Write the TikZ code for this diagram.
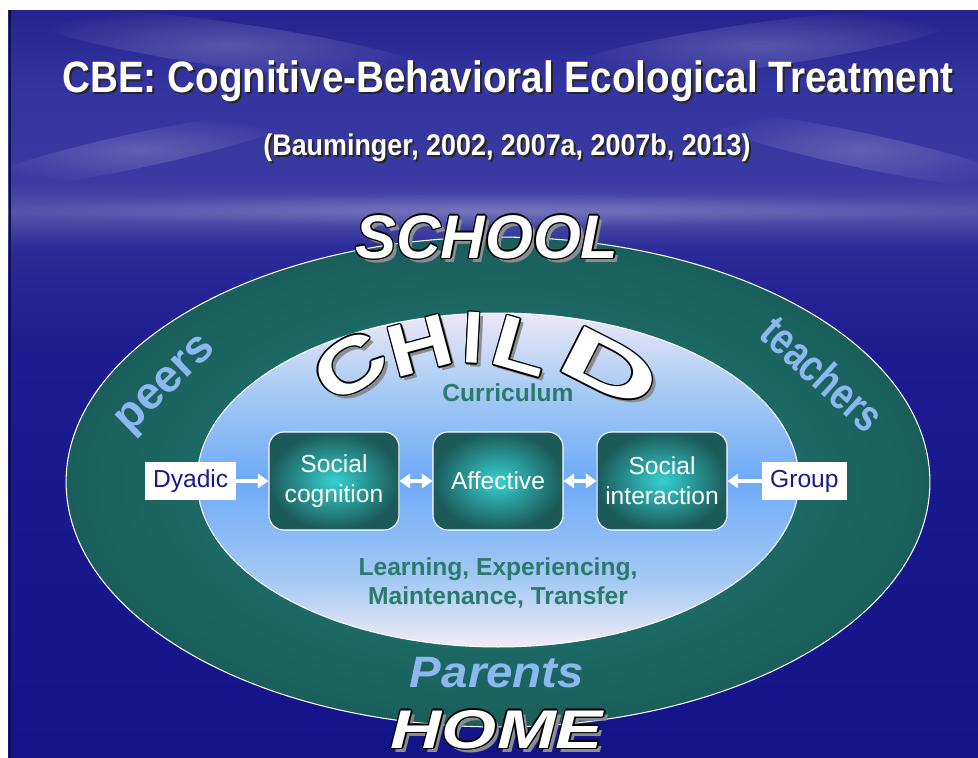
\documentclass[tikz,border=0pt]{standalone}
\usepackage{fontspec}
\setmainfont{Liberation Sans}
\usetikzlibrary{arrows.meta,shapes,positioning,calc,fadings}

\definecolor{seadeep}{HTML}{14148A}
\definecolor{seamid}{HTML}{1C1C90}
\definecolor{seatop}{HTML}{2A2A98}
\definecolor{haze}{HTML}{5454AC}
\definecolor{skylow}{HTML}{3A3AA2}
\definecolor{skymid}{HTML}{3434A0}
\definecolor{skytop}{HTML}{24248E}
\definecolor{edgeline}{HTML}{12123E}
\definecolor{ringcore}{HTML}{21807A}
\definecolor{ringedge}{HTML}{1A5E5B}
\definecolor{lavtop}{HTML}{EDE7F7}
\definecolor{paleblue}{HTML}{A4CAF4}
\definecolor{midblue}{HTML}{6EAAF8}
\definecolor{lavbottom}{HTML}{F3EBF7}
\definecolor{unitcore}{HTML}{36D0D0}
\definecolor{unitedge}{HTML}{1C5A5A}
\definecolor{sidetext}{HTML}{1A1A8C}
\definecolor{currtext}{HTML}{2C7A6E}
\definecolor{ringtext}{HTML}{8CB8F2}
\definecolor{artshadow}{HTML}{8A8E92}

\pgfdeclareverticalshading{oceansky}{100bp}{color(0bp)=(seadeep); color(25bp)=(seadeep);
  color(52bp)=(seamid); color(59bp)=(seatop); color(61.5bp)=(haze); color(63.5bp)=(skylow);
  color(70bp)=(skymid); color(75bp)=(skytop); color(100bp)=(skytop)}
\pgfdeclareverticalshading{childsky}{100bp}{color(0bp)=(lavbottom); color(25bp)=(lavbottom);
  color(35bp)=(paleblue); color(50bp)=(midblue); color(63bp)=(paleblue);
  color(75bp)=(lavtop); color(100bp)=(lavtop)}
\tikzfading[name=puff, inner color=transparent!0, outer color=transparent!100]

\tikzstyle{unit}=[rounded corners=0.3cm, draw=white, line width=0.6pt, shading=radial,
                  inner color=unitcore, outer color=unitedge, minimum width=2.6cm,
                  minimum height=1.96cm, align=center, text=white,
                  font={\fontsize{14}{17}\selectfont}]
\tikzstyle{side}=[fill=white, text=sidetext, minimum height=0.76cm, inner sep=0pt,
                  font={\fontsize{14}{17}\selectfont}]
\tikzstyle{link}=[draw=white, line width=2.6pt, -{Triangle[length=6pt,width=8pt]}]
\tikzstyle{bilink}=[link, {Triangle[length=6pt,width=8pt]}-{Triangle[length=6pt,width=8pt]}]
\tikzstyle{roof}=[inner sep=0pt, anchor=base, font={\fontsize{35}{40}\selectfont\bfseries\itshape}]
\tikzstyle{letter}=[inner sep=0pt, font={\fontsize{42}{44}\selectfont\bfseries}]
\tikzstyle{ring}=[inner sep=0pt, anchor=base, text=ringtext, font={\fontsize{26}{28}\selectfont\bfseries}]
\tikzstyle{caption}=[inner sep=0pt, anchor=base, text=currtext, align=center,
                     font={\fontsize{14}{17}\selectfont\bfseries}]

% outlined white word with a grey drop shadow
\newcommand{\artword}[4]{%
  \node[#3, text=artshadow] at ($(#2)+(4,4)$) {#4};
  \foreach \ox/\oy in {-1/-1,-1/1,1/-1,1/1,-1.4/0,1.4/0,0/-1.4,0/1.4}
    \node[#3, text=black] at ($(#2)+(\ox,\oy)$) {#4};
  \node[#3, text=white] (#1) at (#2) {#4};}

\begin{document}
\begin{tikzpicture}[x=0.02cm,y=-0.02cm]
\useasboundingbox (0,0) rectangle (978,758);
\fill[white] (0,0) rectangle (978,758);
\path[shading=oceansky] (8,10) rectangle (978,758);
\foreach \cx/\cy/\rx/\ry/\ang in {230/45/4.2/0.45/-8, 760/45/4.2/0.45/8, 140/150/3.4/0.35/12,
                                  860/150/3.4/0.35/-12, 500/210/10/0.35/0}
  \fill[white, path fading=puff, fill opacity=0.2, rotate around={\ang:(\cx,\cy)}]
    (\cx,\cy) ellipse [x radius=\rx cm, y radius=\ry cm];
\draw[edgeline, line width=1.2pt] (10,10) -- (10,758);

% heading
\node[anchor=base, inner sep=0pt, xscale=0.88, text=black!85,
      font={\fontsize{25}{30}\selectfont\bfseries}] at (510,94)
  {CBE: Cognitive-Behavioral Ecological Treatment};
\node[anchor=base, inner sep=0pt, xscale=0.88, text=white,
      font={\fontsize{25}{30}\selectfont\bfseries}] (title) at (508,92)
  {CBE: Cognitive-Behavioral Ecological Treatment};
\node[anchor=base, inner sep=0pt, xscale=0.9, text=black!85,
      font={\fontsize{17}{20}\selectfont\bfseries}] at (509,157)
  {(Bauminger, 2002, 2007a, 2007b, 2013)};
\node[anchor=base, inner sep=0pt, xscale=0.9, text=white,
      font={\fontsize{17}{20}\selectfont\bfseries}] (source) at (507,155)
  {(Bauminger, 2002, 2007a, 2007b, 2013)};

% rings
\node[ellipse, draw=white, line width=0.6pt, shading=radial, inner color=ringcore,
      outer color=ringedge, minimum width=17.28cm, minimum height=9.8cm] (world) at (498,482) {};
\node[ellipse, draw=white, line width=0.6pt, shading=childsky,
      minimum width=12.04cm, minimum height=6.68cm] (child) at (498,480) {};

\artword{school}{487,258}{roof}{SCHOOL}
\artword{home}{497,748}{roof, xscale=1.3, font={\fontsize{31}{36}\selectfont\bfseries\itshape}}{HOME}

\artword{childC}{350,366}{letter, rotate=34, xscale=1.35}{C}
\artword{childH}{420,346}{letter, rotate=15, xscale=1.2}{H}
\artword{childI}{473,338}{letter, rotate=-3}{I}
\artword{childL}{522,346}{letter, rotate=-16, xscale=1.25}{L}
\artword{childD}{610,368}{letter, rotate=-27, xscale=1.9}{D}

\node[ring, rotate=44] (peers) at (173,392) {peers};
\node[ring, rotate=-42, xscale=0.78] (teachers) at (812,386) {teachers};
\node[ring, xscale=1.08, font={\fontsize{25}{28}\selectfont\bfseries\itshape}] (parents) at (497,687) {Parents};

\node[caption] (curric) at (508,401) {Curriculum};
\node[caption, anchor=center] (stages) at (498,583) {Learning, Experiencing,\\Maintenance, Transfer};

% domains
\node[unit] (affect) at (498,481) {Affective};
\node[unit, left=0.66cm of affect] (soccog) {Social\\cognition};
\node[unit, right=0.66cm of affect] (socint) {Social\\interaction};
\node[side, minimum width=1.82cm, left=0.64cm of soccog] (dyadic) {Dyadic};
\node[side, minimum width=1.7cm, right=0.68cm of socint] (group) {Group};

\draw[link] (dyadic) -- (soccog);
\draw[bilink] (soccog) -- (affect);
\draw[bilink] (affect) -- (socint);
\draw[link] (group) -- (socint);
\end{tikzpicture}
\end{document}
